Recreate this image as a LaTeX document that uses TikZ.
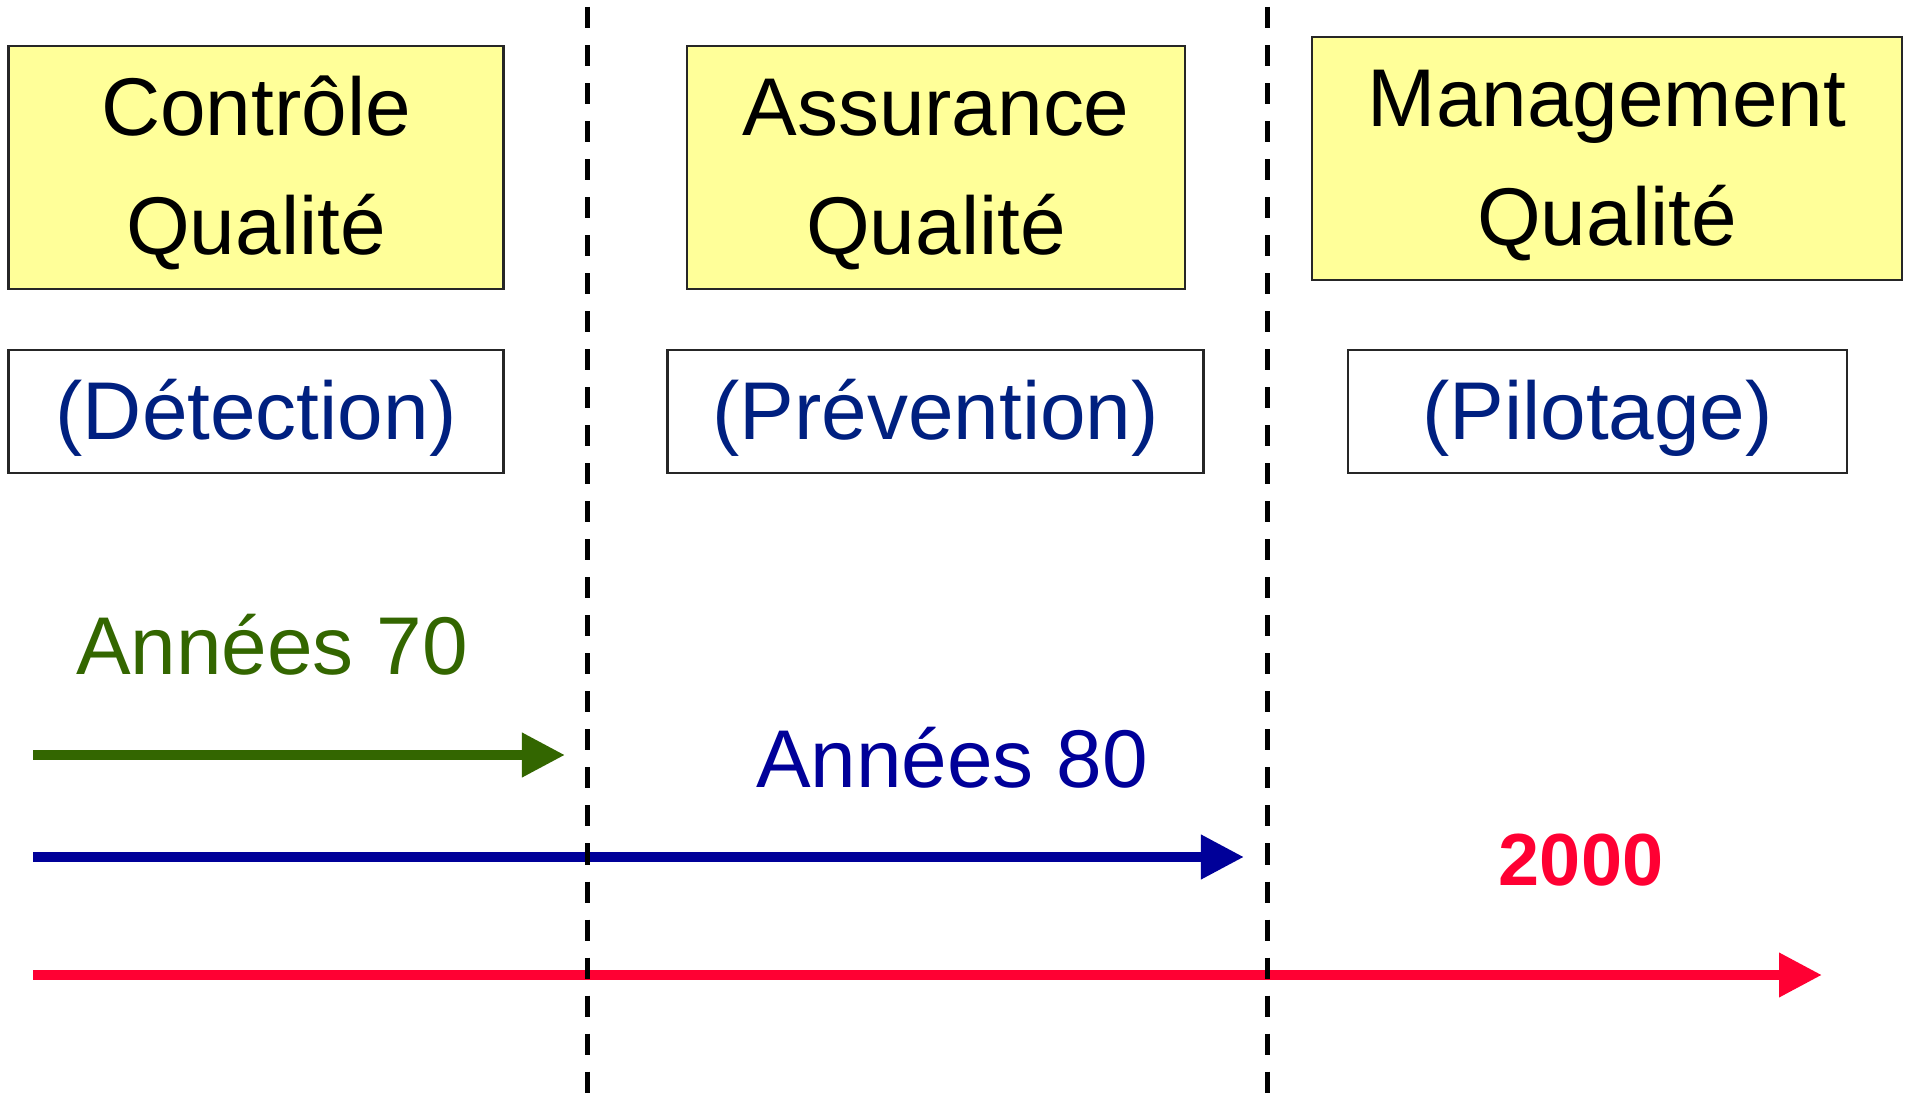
\documentclass[tikz,border=0pt]{standalone}
\usepackage{fontspec}
\setmainfont{Liberation Sans}
\usetikzlibrary{arrows.meta}

\definecolor{qyellow}{HTML}{FFFF99}
\definecolor{qnavy}{HTML}{002080}
\definecolor{qgreen}{HTML}{336600}
\definecolor{qblue}{HTML}{000099}
\definecolor{qred}{HTML}{FF0033}

\begin{document}
\begin{tikzpicture}[x=0.01cm, y=-0.01cm,
    phase/.style={draw=black!85, line width=0.7pt, fill=qyellow, inner sep=0pt,
                  minimum height=2.43cm, text height=1.9cm, text depth=0.17cm, align=center,
                  font=\fontsize{23.3}{33.7}\selectfont},
    approach/.style={draw=black!85, line width=0.7pt, fill=white, inner sep=0pt,
                     minimum height=1.23cm, text height=0.6cm, text depth=0.05cm,
                     text=qnavy, font=\fontsize{23.3}{28}\selectfont},
    era/.style={anchor=base, font=\fontsize{23.3}{28}\selectfont},
    span/.style={line width=0.1cm, -{Triangle[length=0.43cm,width=0.42cm]}},
    border/.style={black, line width=0.05cm, dash pattern=on 0.21cm off 0.17cm}]
            \useasboundingbox (0, 0) rectangle (1907, 1095);

            \node [phase, minimum width=4.95cm] (ctrl)  at (256, 167.5) {Contrôle\\Qualité};
            \node [phase, minimum width=4.98cm] (assur) at (936, 167.5) {Assurance\\Qualité};
            \node [phase, minimum width=5.90cm] (mgmt)  at (1607, 158.5) {Management\\Qualité};

            \node [approach, minimum width=4.95cm] (detect)  at (256, 411.5)    {(Détection)};
            \node [approach, minimum width=5.36cm] (prevent) at (935.5, 411.5)  {(Prévention)};
            \node [approach, minimum width=4.99cm] (pilot)   at (1597.5, 411.5) {(Pilotage)};

            \node [era, text=qgreen] (y70) at (272, 675) {Années 70};
            \node [era, text=qblue]  (y80) at (952, 787) {Années 80};
            \node [era, text=qred, font=\fontsize{21}{25}\selectfont\bfseries] (y00) at (1581, 885) {2000};

            \coordinate (g0) at (33, 755);  \coordinate (g1) at (565, 755);
            \coordinate (b0) at (33, 857);  \coordinate (b1) at (1244, 857);
            \coordinate (r0) at (33, 975);  \coordinate (r1) at (1822, 975);
            \draw [span, qgreen] (g0) -- (g1);
            \draw [span, qblue]  (b0) -- (b1);
            \draw [span, qred]   (r0) -- (r1);

            \coordinate (d1top) at (587, 7);   \coordinate (d1bot) at (587, 1095);
            \coordinate (d2top) at (1267, 7);  \coordinate (d2bot) at (1267, 1095);
            \draw [border] (d1top) -- (d1bot);
            \draw [border] (d2top) -- (d2bot);
          \end{tikzpicture}
\end{document}
